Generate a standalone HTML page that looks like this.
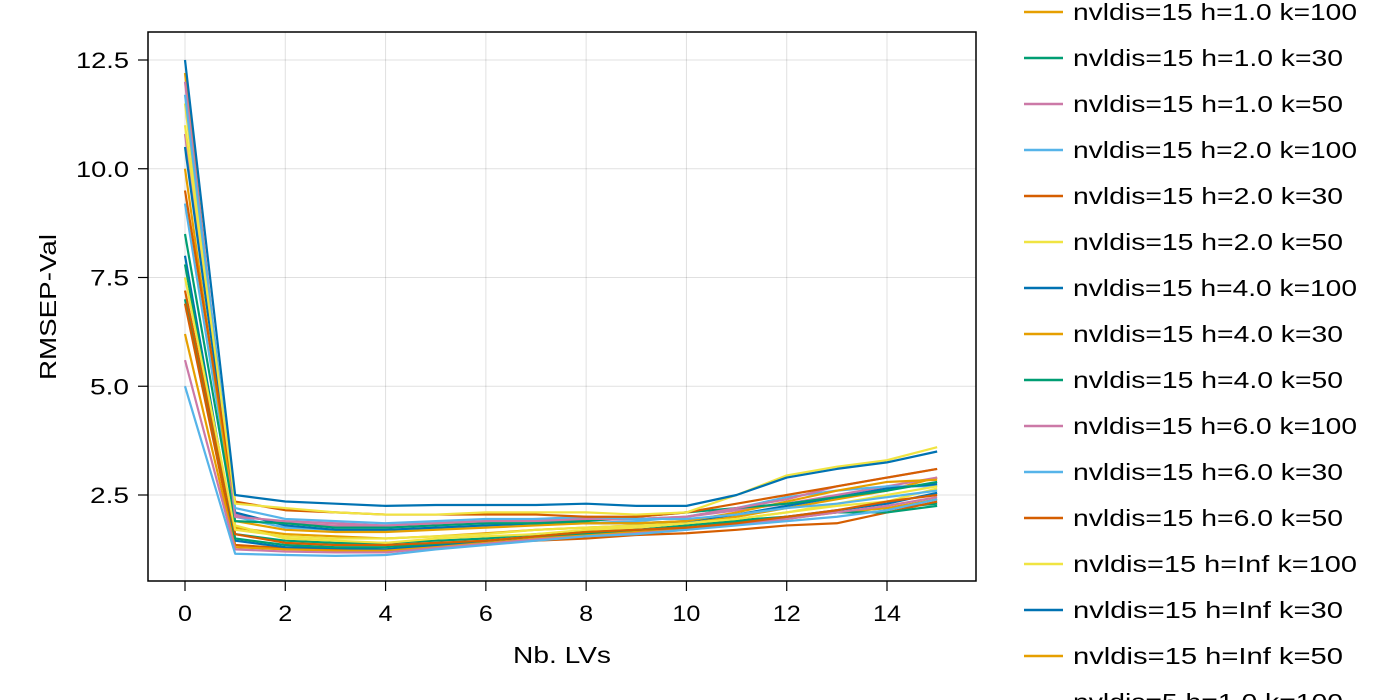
<!DOCTYPE html>
<html><head><meta charset="utf-8"><style>
html,body{margin:0;padding:0;background:#fff;width:1400px;height:700px;overflow:hidden}
text{font-family:"Liberation Sans",sans-serif;fill:#000}
</style></head><body>
<svg id="chart" width="1400" height="700" xmlns="http://www.w3.org/2000/svg">
<g id="grid"></g>
<g id="series"></g>
<rect x="148" y="32" width="828" height="549" fill="none" stroke="#000" stroke-width="1.5"/>
<g id="axes"></g>
<text x="562" y="663" font-size="23" text-anchor="middle" textLength="98" lengthAdjust="spacingAndGlyphs">Nb. LVs</text>
<text transform="translate(56,307) rotate(-90)" font-size="23" text-anchor="middle" textLength="146" lengthAdjust="spacingAndGlyphs">RMSEP-Val</text>
<g id="legend"></g>
</svg>
<script>
const xTicks=[0,2,4,6,8,10,12,14];
const yTicks=[2.5,5.0,7.5,10.0,12.5];
const yTickLabels=["2.5","5.0","7.5","10.0","12.5"];
const lvs=[0,1,2,3,4,5,6,7,8,9,10,11,12,13,14,15];
const s1=[12.5,2.5,2.35,2.3,2.25,2.27,2.27,2.27,2.3,2.25,2.25,2.5,2.9,3.1,3.25,3.5];
const s2=[11,2.3,2.2,2.1,2.05,2.05,2.1,2.1,2.1,2.05,2.1,2.5,2.95,3.15,3.3,3.6];
const s3=[9.5,2.35,2.15,2.1,2.05,2.05,2.05,2.05,2.0,2.0,2.1,2.3,2.5,2.7,2.9,3.1];
const s4=[11.7,2.2,1.95,1.9,1.85,1.9,1.95,1.95,2.0,1.95,1.95,2.05,2.2,2.3,2.45,2.6];
const s5=[12,2.0,1.9,1.85,1.8,1.85,1.9,1.95,1.95,1.95,2.0,2.2,2.4,2.7,2.9,3.1];
const s6=[8.5,1.9,1.85,1.75,1.75,1.8,1.85,1.85,1.9,2.0,2.1,2.2,2.3,2.45,2.6,2.8];
const s7=[10,1.9,1.7,1.65,1.65,1.7,1.75,1.8,1.85,1.85,1.9,2.1,2.35,2.6,2.8,2.85];
const s8=[10.5,2.1,1.8,1.7,1.7,1.75,1.8,1.85,1.85,1.85,1.9,2.05,2.25,2.45,2.65,2.75];
const s9=[7.5,1.7,1.55,1.5,1.5,1.55,1.6,1.7,1.75,1.8,1.85,1.95,2.1,2.3,2.5,2.7];
const s10=[7.2,1.6,1.4,1.35,1.35,1.4,1.45,1.55,1.65,1.7,1.75,1.85,2.0,2.15,2.35,2.5];
const s11=[5,1.15,1.12,1.1,1.12,1.25,1.35,1.45,1.55,1.6,1.7,1.8,1.9,2.0,2.15,2.4];
const s12=[5.6,1.25,1.2,1.18,1.18,1.28,1.38,1.48,1.55,1.62,1.7,1.82,1.95,2.1,2.25,2.45];
const s13=[7.8,1.5,1.35,1.3,1.3,1.38,1.45,1.55,1.62,1.7,1.75,1.88,2.0,2.1,2.1,2.25];
const s14=[6.2,1.3,1.25,1.22,1.22,1.3,1.4,1.5,1.6,1.65,1.72,1.85,1.95,2.1,2.2,2.4];
const s15=[8,1.45,1.3,1.28,1.25,1.35,1.42,1.5,1.6,1.68,1.75,1.85,2.0,2.15,2.3,2.55];
const s16=[11.5,1.8,1.5,1.45,1.4,1.5,1.55,1.6,1.7,1.75,1.85,1.95,2.1,2.25,2.35,2.65];
const s17=[6.9,1.35,1.28,1.25,1.22,1.32,1.4,1.45,1.5,1.58,1.62,1.7,1.8,1.85,2.1,2.35];
const s18=[9.2,2.0,1.75,1.7,1.7,1.72,1.8,1.82,1.85,1.9,2.0,2.2,2.45,2.6,2.7,2.7];
const s19=[10.8,2.05,1.85,1.8,1.8,1.85,1.9,1.9,1.92,1.95,2.0,2.15,2.3,2.5,2.7,2.9];
const s20=[7,1.6,1.45,1.4,1.4,1.45,1.5,1.6,1.65,1.7,1.8,1.92,2.0,2.1,2.2,2.3];
const s21=[12.2,1.75,1.6,1.55,1.5,1.55,1.62,1.7,1.75,1.8,1.85,2.0,2.2,2.4,2.6,2.9];
const seriesList=[s21,s20,s19,s18,s17,s16,s15,s14,s13,s12,s11,s10,s9,s8,s7,s6,s5,s4,s3,s2,s1];
const legendLabels=["nvldis=15 h=1.0 k=100","nvldis=15 h=1.0 k=30","nvldis=15 h=1.0 k=50","nvldis=15 h=2.0 k=100","nvldis=15 h=2.0 k=30","nvldis=15 h=2.0 k=50","nvldis=15 h=4.0 k=100","nvldis=15 h=4.0 k=30","nvldis=15 h=4.0 k=50","nvldis=15 h=6.0 k=100","nvldis=15 h=6.0 k=30","nvldis=15 h=6.0 k=50","nvldis=15 h=Inf k=100","nvldis=15 h=Inf k=30","nvldis=15 h=Inf k=50","nvldis=5 h=1.0 k=100"];
const palette=["#E69F00","#009E73","#CC79A7","#56B4E9","#D55E00","#F0E442","#0072B2"];
const NS="http://www.w3.org/2000/svg";
const xs=v=>185+v*50.143;
const ys=v=>495-(v-2.5)*43.5;
function mk(tag,attrs,parent){const e=document.createElementNS(NS,tag);for(const k in attrs)e.setAttribute(k,attrs[k]);parent.appendChild(e);return e;}
const grid=document.getElementById('grid'),axes=document.getElementById('axes');
xTicks.forEach(t=>{
 const g=mk('line',{x1:xs(t),x2:xs(t),y1:32,y2:581,stroke:'#000','stroke-opacity':0.12,'stroke-width':1},grid);
 
 
 const tk=mk('line',{x1:xs(t),x2:xs(t),y1:581,y2:591,stroke:'#000','stroke-width':1.2},axes);
 
 
 const lb=mk('text',{x:xs(t),y:621,'font-size':22,'text-anchor':'middle',textLength:String(t).length*14,lengthAdjust:'spacingAndGlyphs'},axes);lb.textContent=t;
 
 
});
yTicks.forEach((t,i)=>{
 const g=mk('line',{x1:148,x2:976,y1:ys(t),y2:ys(t),stroke:'#000','stroke-opacity':0.12,'stroke-width':1},grid);
 
 
 const tk=mk('line',{x1:138,x2:148,y1:ys(t),y2:ys(t),stroke:'#000','stroke-width':1.2},axes);
 
 
 const lab=yTickLabels[i];
 const lb=mk('text',{x:129,y:ys(t)+8,'font-size':22,'text-anchor':'end',textLength:lab.length===4?53:39,lengthAdjust:'spacingAndGlyphs'},axes);lb.textContent=lab;
 
 
});
const sg=document.getElementById('series');
seriesList.forEach((s,i)=>{
 const p=mk('polyline',{points:s.map((v,j)=>xs(lvs[j])+','+ys(v)).join(' '),fill:'none',stroke:palette[i%7],'stroke-width':2.2,'stroke-linejoin':'round'},sg);
 
 
});
const lg=document.getElementById('legend');
legendLabels.forEach((l,i)=>{
 const y=12+i*46;
 const ln=mk('line',{x1:1024,x2:1063,y1:y,y2:y,stroke:palette[i%7],'stroke-width':2.5},lg);
 
 
 const t=mk('text',{x:1073,y:y+8,'font-size':23,textLength:Math.round(l.length*13.5),lengthAdjust:'spacingAndGlyphs'},lg);t.textContent=l;
 
 
});
</script>
</body></html>
